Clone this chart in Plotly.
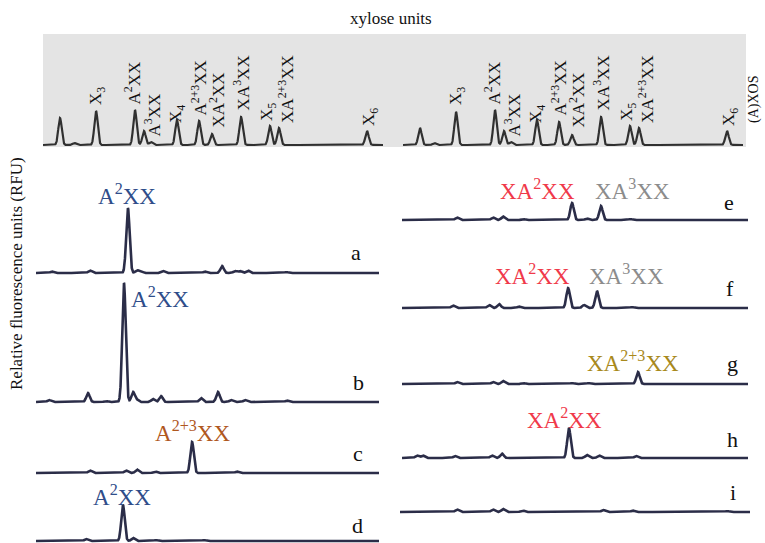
import numpy as np
import plotly.graph_objects as go

W, H = 765, 543
SERIF = "Liberation Serif, Times New Roman, serif"

# ---------------- data ----------------
# retention time axis (arbitrary units, 0-20)
t_grid = np.linspace(0, 20, 4001)

# (A)XOS reference ladders (top strips)
ref_t = [1.00, 1.84, 3.12, 5.41, 5.94, 6.35, 7.88, 9.18, 9.94, 11.65, 13.35, 13.88, 19.06]
ref_left_h = [27, 2, 34, 35, 14, 3, 25, 24, 11, 28, 19, 17, 14]
ref_right_h = [17, 2, 33, 35, 14, 3, 25, 23, 10, 28, 19, 17, 14]

ref_labels = ["X<sub>3</sub>", "A<sup>2</sup>XX", "A<sup>3</sup>XX", "X<sub>4</sub>",
              "A<sup>2+3</sup>XX", "XA<sup>2</sup>XX", "XA<sup>3</sup>XX", "X<sub>5</sub>",
              "XA<sup>2+3</sup>XX", "X<sub>6</sub>"]
ref_label_t = [3.18, 5.29, 6.47, 7.88, 9.18, 10.24, 11.70, 13.24, 14.29, 19.24]
ref_label_y = [38, 39, 7, 20, 27, 15, 33, 22, 20, 17]

# sample electropherograms: peak retention times and heights (RFU)
a_t = [0.93, 3.15, 5.36, 5.89, 6.12, 7.41, 9.85, 10.85, 11.60, 11.90, 12.36, 14.6]
a_h = [1.5, 2.5, 65, 2.5, 2, 2, 1.5, 7, 2, 2, 2.5, 1]
b_t = [0.76, 3.03, 4.08, 5.13, 5.66, 5.89, 6.82, 7.29, 9.62, 10.61, 11.37, 12.19, 14.64]
b_h = [2, 9, 1, 119, 10, 2, 3, 6, 4, 10, 2, 2, 1.5]
c_t = [3.15, 5.25, 5.89, 6.94, 9.10, 11.72]
c_h = [2.5, 2.5, 3.5, 1.5, 31, 1.5]
d_t = [2.92, 5.07, 5.66, 7.0, 9.8]
d_h = [2, 36, 3, 1, 1]
e_t = [3.18, 5.26, 5.84, 6.99, 9.83, 10.69, 11.50, 13.2]
e_h = [2.5, 2.5, 3.5, 1, 17, 1.5, 14, 1]
f_t = [2.95, 5.03, 5.61, 6.76, 9.60, 10.52, 11.27, 13.3]
f_h = [2.5, 3, 4, 1.5, 20, 3, 17, 1]
g_t = [3.18, 5.26, 5.84, 6.99, 9.83, 10.8, 13.64]
g_h = [2, 2, 3, 1, 1, 1, 12]
h_t = [0.87, 1.21, 3.06, 5.20, 5.78, 9.65, 10.69, 11.39, 13.53]
h_h = [2.5, 2.5, 2, 2.5, 4.5, 30, 3, 2.5, 2]
i_t = [3.26, 5.31, 5.89, 7.0, 11.6, 13.3, 18.7]
i_h = [2.5, 2.5, 3, 1.5, 2, 1.5, 1]

# labels of the identified peaks in each sample
sample_labels = {
    "a": [("A<sup>2</sup>XX", 5.31, 79, "#2f4d8a")],
    "b": [("A<sup>2</sup>XX", 7.23, 105, "#2f4d8a")],
    "c": [("A<sup>2+3</sup>XX", 9.10, 42, "#b0581e")],
    "d": [("A<sup>2</sup>XX", 5.01, 46, "#2f4d8a")],
    "e": [("XA<sup>2</sup>XX", 7.86, 31, "#f0394a"), ("XA<sup>3</sup>XX", 13.35, 31, "#8c8c8c")],
    "f": [("XA<sup>2</sup>XX", 7.57, 34, "#f0394a"), ("XA<sup>3</sup>XX", 13.0, 34, "#8c8c8c")],
    "g": [("XA<sup>2+3</sup>XX", 13.35, 23, "#a8891c")],
    "h": [("XA<sup>2</sup>XX", 9.42, 40, "#f0394a")],
    "i": [],
}
letter_t = {"a": 18.66, "b": 18.78, "c": 18.78, "d": 18.72, "e": 18.9,
            "f": 18.96, "g": 19.08, "h": 19.13, "i": 19.03}
letter_y = {"a": 21, "b": 20, "c": 20, "d": 16, "e": 18, "f": 20, "g": 21, "h": 19, "i": 20}

# ---------------- layout helpers ----------------
def trace_curve(ts, hs, sigma):
    y = np.zeros_like(t_grid)
    for t0, h0 in zip(ts, hs):
        y += h0 * np.exp(-0.5 * ((t_grid - t0) / sigma) ** 2)
    return y

fig = go.Figure()
layout = {}
annotations = []

def add_panel(idx, x0, x1, base, top, pad, ts, hs, sigma, color, width):
    xa = "x" if idx == 1 else f"x{idx}"
    ya = "y" if idx == 1 else f"y{idx}"
    xk = "xaxis" if idx == 1 else f"xaxis{idx}"
    yk = "yaxis" if idx == 1 else f"yaxis{idx}"
    bottom = base + pad
    layout[xk] = dict(domain=[x0 / W, x1 / W], range=[0, 20], visible=False,
                      fixedrange=True, anchor=ya)
    layout[yk] = dict(domain=[1 - bottom / H, 1 - top / H], range=[-pad, base - top],
                      visible=False, fixedrange=True, anchor=xa)
    fig.add_trace(go.Scatter(x=t_grid, y=trace_curve(ts, hs, sigma), mode="lines",
                             line=dict(color=color, width=width), hoverinfo="skip",
                             xaxis=xa, yaxis=ya, showlegend=False))
    return xa, ya

# gray background of reference strip
fig.add_shape(type="rect", xref="paper", yref="paper", x0=43 / W, x1=746 / W,
              y0=1 - 147 / H, y1=1 - 34 / H, fillcolor="#e4e4e4", line_width=0,
              layer="below")

REF_COL = "#303030"
TR_COL = "#2b2d48"

# top reference strips
for idx, (x0, x1, hts) in enumerate([(43, 383, ref_left_h), (403, 743, ref_right_h)], start=1):
    xa, ya = add_panel(idx, x0, x1, 145, 30, 2, ref_t, hts, 0.1, REF_COL, 2.2)
    for lab, lt, ly in zip(ref_labels, ref_label_t, ref_label_y):
        annotations.append(dict(text=lab, x=lt, y=ly, xref=xa, yref=ya, showarrow=False,
                                textangle=-90, xanchor="center", yanchor="bottom",
                                font=dict(family=SERIF, size=17, color="#111111")))

# sample panels: (name, x0, x1, baseline px, t, h)
panels = [
    ("a", 36, 379, 273, a_t, a_h),
    ("b", 36, 379, 402, b_t, b_h),
    ("c", 36, 379, 473, c_t, c_h),
    ("d", 36, 379, 541, d_t, d_h),
    ("e", 402, 748, 220, e_t, e_h),
    ("f", 402, 748, 308, f_t, f_h),
    ("g", 402, 748, 384, g_t, g_h),
    ("h", 402, 748, 458, h_t, h_h),
    ("i", 400, 750, 512, i_t, i_h),
]
for k, (name, x0, x1, base, ts, hs) in enumerate(panels):
    idx = k + 3
    pad = min(3, H - base)
    xa, ya = add_panel(idx, x0, x1, base, base - 130, pad, ts, hs, 0.1, TR_COL, 2.6)
    for lab, lt, ly, col in sample_labels[name]:
        annotations.append(dict(text=lab, x=lt, y=ly, xref=xa, yref=ya, showarrow=False,
                                xanchor="center", yanchor="middle",
                                font=dict(family=SERIF, size=23, color=col)))
    annotations.append(dict(text=name, x=letter_t[name], y=letter_y[name], xref=xa, yref=ya,
                            showarrow=False, xanchor="center", yanchor="middle",
                            font=dict(family=SERIF, size=22, color="#111111")))

# global texts
annotations.append(dict(text="xylose units", x=391 / W, y=1 - 18 / H, xref="paper", yref="paper",
                        showarrow=False, xanchor="center", yanchor="middle",
                        font=dict(family=SERIF, size=17, color="#111111")))
annotations.append(dict(text="(A)XOS", x=764 / W, y=1 - 100 / H, xref="paper", yref="paper",
                        showarrow=False, textangle=-90, xanchor="right", yanchor="middle",
                        font=dict(family=SERIF, size=14, color="#111111")))
annotations.append(dict(text="Relative fluorescence units (RFU)", x=16 / W, y=1 - 274 / H,
                        xref="paper", yref="paper", showarrow=False, textangle=-90,
                        xanchor="center", yanchor="middle",
                        font=dict(family=SERIF, size=17, color="#111111")))

fig.update_layout(width=W, height=H, margin=dict(l=0, r=0, t=0, b=0),
                  paper_bgcolor="white", plot_bgcolor="rgba(0,0,0,0)",
                  annotations=annotations, **layout)

fig.write_html("out.html", config={"displayModeBar": False, "staticPlot": True},
               post_script="document.body.style.margin='0px';document.body.style.overflow='hidden';")
